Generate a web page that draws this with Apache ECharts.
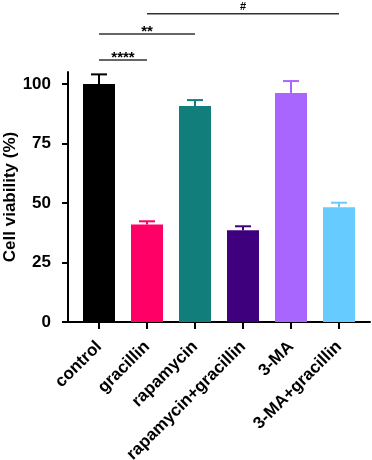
<!DOCTYPE html>
<html>
<head>
<meta charset="utf-8">
<script src="https://cdn.jsdelivr.net/npm/echarts@6/dist/echarts.min.js"></script>
<style>
  html, body { margin: 0; padding: 0; background: #fff; }
  #chart { width: 372px; height: 460px; }
</style>
</head>
<body>
<div id="chart"></div>
<script>
const groups = ['control', 'gracillin', 'rapamycin', 'rapamycin+gracillin', '3-MA', '3-MA+gracillin']
const means = [100, 41, 90.7, 38.5, 96.2, 48.2]
const sds = [4, 1.3, 2.5, 1.7, 5, 1.9]
const colors = ['#000000', '#ff0066', '#127e7b', '#3e007c', '#a966ff', '#66ccff']
const yTicks = [0, 25, 50, 75, 100]
// significance lines: [from, to, level, text] in category units / %
const brackets = [
  [0.04, 0.85, 110, '****'],
  [0.06, 2.13, 121, '**'],
  [1.0, 5.13, 129.5, '#'],
]

const font = 'Liberation Sans, Arial, Helvetica, sans-serif'
const myChart = echarts.init(document.getElementById('chart'))

const option = {
  animation: false,
  backgroundColor: '#fff',
  grid: [
    { left: 75, right: 9, top: 72, bottom: 138, outerBoundsMode: 'none' },
    { left: 68, right: 2, top: 72, bottom: 138, outerBoundsMode: 'none' },
  ],
  xAxis: [
    {
      type: 'category',
      gridIndex: 0,
      data: groups,
      axisLine: { show: false },
      axisTick: {
        show: true,
        alignWithLabel: true,
        length: 7,
        lineStyle: { color: '#000', width: 2 },
      },
      axisLabel: {
        rotate: 45,
        margin: 22,
        color: '#000',
        fontWeight: 'bold',
        fontSize: 17,
        fontFamily: font,
      },
    },
    {
      type: 'value',
      gridIndex: 1,
      min: 0,
      max: 1,
      axisLine: { show: true, onZero: false, lineStyle: { color: '#000', width: 2 } },
      axisTick: { show: false },
      axisLabel: { show: false },
      splitLine: { show: false },
    },
  ],
  yAxis: [
    {
      type: 'value',
      gridIndex: 0,
      min: 0,
      max: 105,
      show: false,
    },
    {
      type: 'value',
      gridIndex: 1,
      min: 0,
      max: 105,
      name: 'Cell viability (%)',
      nameLocation: 'middle',
      nameGap: 49,
      nameMoveOverlap: false,
      nameTextStyle: {
        color: '#000',
        fontWeight: 'bold',
        fontSize: 17,
        fontFamily: font,
      },
      axisLine: { show: true, lineStyle: { color: '#000', width: 2 } },
      axisTick: {
        show: true,
        length: 6,
        customValues: yTicks,
        lineStyle: { color: '#000', width: 2 },
      },
      axisLabel: {
        customValues: yTicks,
        margin: 17,
        color: '#000',
        fontWeight: 'bold',
        fontSize: 17,
        fontFamily: font,
      },
      splitLine: { show: false },
    },
  ],
  series: [
    {
      type: 'bar',
      xAxisIndex: 0,
      yAxisIndex: 0,
      barWidth: 32,
      data: means.map((v, i) => ({ value: v, itemStyle: { color: colors[i] } })),
    },
    {
      // upper error bars
      type: 'custom',
      xAxisIndex: 0,
      yAxisIndex: 0,
      z: 3,
      data: means.map((v, i) => [i, v, v + sds[i]]),
      renderItem: function (params, api) {
        const i = api.value(0)
        const base = api.coord([i, api.value(1)])
        const top = api.coord([i, api.value(2)])
        const half = 8
        const style = { stroke: colors[i], lineWidth: 2 }
        return {
          type: 'group',
          children: [
            { type: 'line', shape: { x1: base[0], y1: base[1], x2: top[0], y2: top[1] }, style },
            { type: 'line', shape: { x1: top[0] - half, y1: top[1], x2: top[0] + half, y2: top[1] }, style },
          ],
        }
      },
    },
    {
      // significance lines
      type: 'custom',
      xAxisIndex: 0,
      yAxisIndex: 0,
      clip: false,
      data: brackets,
      renderItem: function (params, api) {
        const b = brackets[params.dataIndex]
        const p1 = api.coord([b[0], b[2]])
        const p2 = api.coord([b[1], b[2]])
        const isHash = b[3] === '#'
        return {
          type: 'group',
          children: [
            {
              type: 'line',
              shape: { x1: p1[0], y1: p1[1], x2: p2[0], y2: p2[1] },
              style: { stroke: '#333', lineWidth: 1.5 },
            },
            {
              type: 'text',
              x: (p1[0] + p2[0]) / 2,
              y: p1[1] - (isHash ? 7 : 2),
              style: {
                text: b[3],
                fill: '#000',
                font: 'bold ' + (isHash ? 11 : 15) + 'px ' + font,
                textAlign: 'center',
                textVerticalAlign: 'middle',
              },
            },
          ],
        }
      },
    },
  ],
}

option && myChart.setOption(option)
</script>
</body>
</html>
